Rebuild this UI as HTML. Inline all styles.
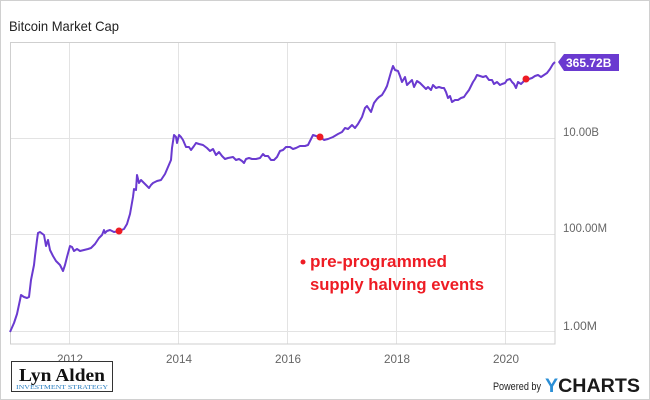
<!DOCTYPE html>
<html><head><meta charset="utf-8"><style>
body{margin:0;background:#fff}
svg{display:block;font-family:"Liberation Sans",sans-serif}
</style></head><body>
<svg width="650" height="400" viewBox="0 0 650 400">
<rect x="0.5" y="0.5" width="649" height="399" fill="#fff" stroke="#d0d0d0"/>
<text x="9" y="31" font-size="14" fill="#222" textLength="110" lengthAdjust="spacingAndGlyphs">Bitcoin Market Cap</text>
<g stroke="#e3e3e3" stroke-width="1">
<line x1="69.5" y1="43" x2="69.5" y2="344"/><line x1="178.5" y1="43" x2="178.5" y2="344"/>
<line x1="287.5" y1="43" x2="287.5" y2="344"/><line x1="396.5" y1="43" x2="396.5" y2="344"/>
<line x1="505.5" y1="43" x2="505.5" y2="344"/>
<line x1="10" y1="138.5" x2="555" y2="138.5"/><line x1="10" y1="234.5" x2="555" y2="234.5"/>
<line x1="10" y1="331.5" x2="555" y2="331.5"/>
</g>
<rect x="10.5" y="42.5" width="544.5" height="301.5" fill="none" stroke="#cfcfcf"/>
<g font-size="12" fill="#666" lengthAdjust="spacingAndGlyphs">
<text x="563" y="136" textLength="36" lengthAdjust="spacingAndGlyphs">10.00B</text>
<text x="563" y="232" textLength="44" lengthAdjust="spacingAndGlyphs">100.00M</text>
<text x="563" y="330" textLength="34" lengthAdjust="spacingAndGlyphs">1.00M</text>
<text x="57" y="363" textLength="26" lengthAdjust="spacingAndGlyphs">2012</text>
<text x="166" y="363" textLength="26" lengthAdjust="spacingAndGlyphs">2014</text>
<text x="275" y="363" textLength="26" lengthAdjust="spacingAndGlyphs">2016</text>
<text x="384" y="363" textLength="26" lengthAdjust="spacingAndGlyphs">2018</text>
<text x="493" y="363" textLength="26" lengthAdjust="spacingAndGlyphs">2020</text>
</g>
<polyline fill="none" stroke="#6a3ad0" stroke-width="2" stroke-linejoin="round" points="10,332 14,323 17,314 20,300 21,295 24,297 27,298 29,297 31,280 34,265 35,256 37,240 38,233 40,232 44,235 46,246 48,240 50,250 53,256 56,261 60,265 63,271 65,265 67,257 70,246 72,247 74,251 77,249 80,251 84,250 88,249 91,248 95,244 99,238 102,235 104,230 105,233 107,231 110,230 114,232 119,231 124,229 127,224 130,214 133,197 134,189 136,190 137,175 139,183 141,180 143,182 146,185 149,188 151,185 153,183 157,181 161,180 165,174 168,167 171,160 172,148 174,135 176,137 177,143 179,135 181,137 183,140 186,147 189,147 191,150 194,146 196,143 199,144 203,145 207,148 210,151 213,149 216,155 219,152 222,156 225,159 228,158 233,157 236,160 239,159 242,161 244,163 246,159 249,158 252,159 256,159 260,158 263,154 265,156 268,156 271,160 274,160 277,157 280,151 283,150 286,147 290,147 293,149 296,148 300,146 305,146 308,145 311,139 313,135 316,136 320,137 324,140 328,139 333,137 338,134 342,132 345,128 348,129 352,125 355,128 358,124 362,117 365,108 367,106 369,109 371,112 374,103 377,99 379,97 382,95 385,90 387,86 389,79 391,72 393,66 395,70 398,71 400,76 402,82 405,77 407,85 410,82 412,80 414,87 417,81 420,83 423,86 426,89 428,87 431,90 433,85 436,88 439,87 442,88 444,88 446,92 448,98 450,96 452,102 455,100 458,100 461,98 464,97 466,94 469,90 471,86 473,82 475,79 477,75 480,76 483,77 486,76 489,80 492,80 494,84 497,82 500,85 502,84 505,83 507,80 510,79 512,82 514,84 516,88 518,82 521,84 523,82 526,79 529,79 532,78 535,76 538,75 541,77 544,75 547,73 550,69 553,64 555,62"/>
<g fill="#ee1c24">
<circle cx="119" cy="231" r="3.5"/><circle cx="320" cy="137" r="3.5"/><circle cx="526" cy="79" r="3.5"/>
<circle cx="303" cy="262" r="2.5"/>
</g>
<g font-size="17" font-weight="bold" fill="#ee1c24">
<text x="310" y="267" textLength="137" lengthAdjust="spacingAndGlyphs">pre-programmed</text>
<text x="310" y="290" textLength="174" lengthAdjust="spacingAndGlyphs">supply halving events</text>
</g>
<path d="M558,62 L564,54 L619,54 L619,71 L564,71 Z" fill="#6a3ad0"/>
<text x="566" y="67" font-size="12" font-weight="bold" fill="#fff">365.72B</text>
<rect x="11.5" y="361.5" width="101" height="30" fill="#fff" stroke="#333"/>
<text x="62" y="381" font-family="Liberation Serif,serif" font-size="18" font-weight="bold" text-anchor="middle" fill="#111" textLength="86" lengthAdjust="spacingAndGlyphs">Lyn Alden</text>
<text x="62" y="389" font-family="Liberation Serif,serif" font-size="6" text-anchor="middle" fill="#2a7fc0" textLength="92" lengthAdjust="spacingAndGlyphs">INVESTMENT STRATEGY</text>
<text x="493" y="390" font-size="11" fill="#222" textLength="48" lengthAdjust="spacingAndGlyphs">Powered by</text>
<text x="545" y="392" font-size="19" font-weight="bold" fill="#1a1a1a" textLength="95" lengthAdjust="spacingAndGlyphs"><tspan fill="#2b8fd6">Y</tspan>CHARTS</text>
</svg>
</body></html>
